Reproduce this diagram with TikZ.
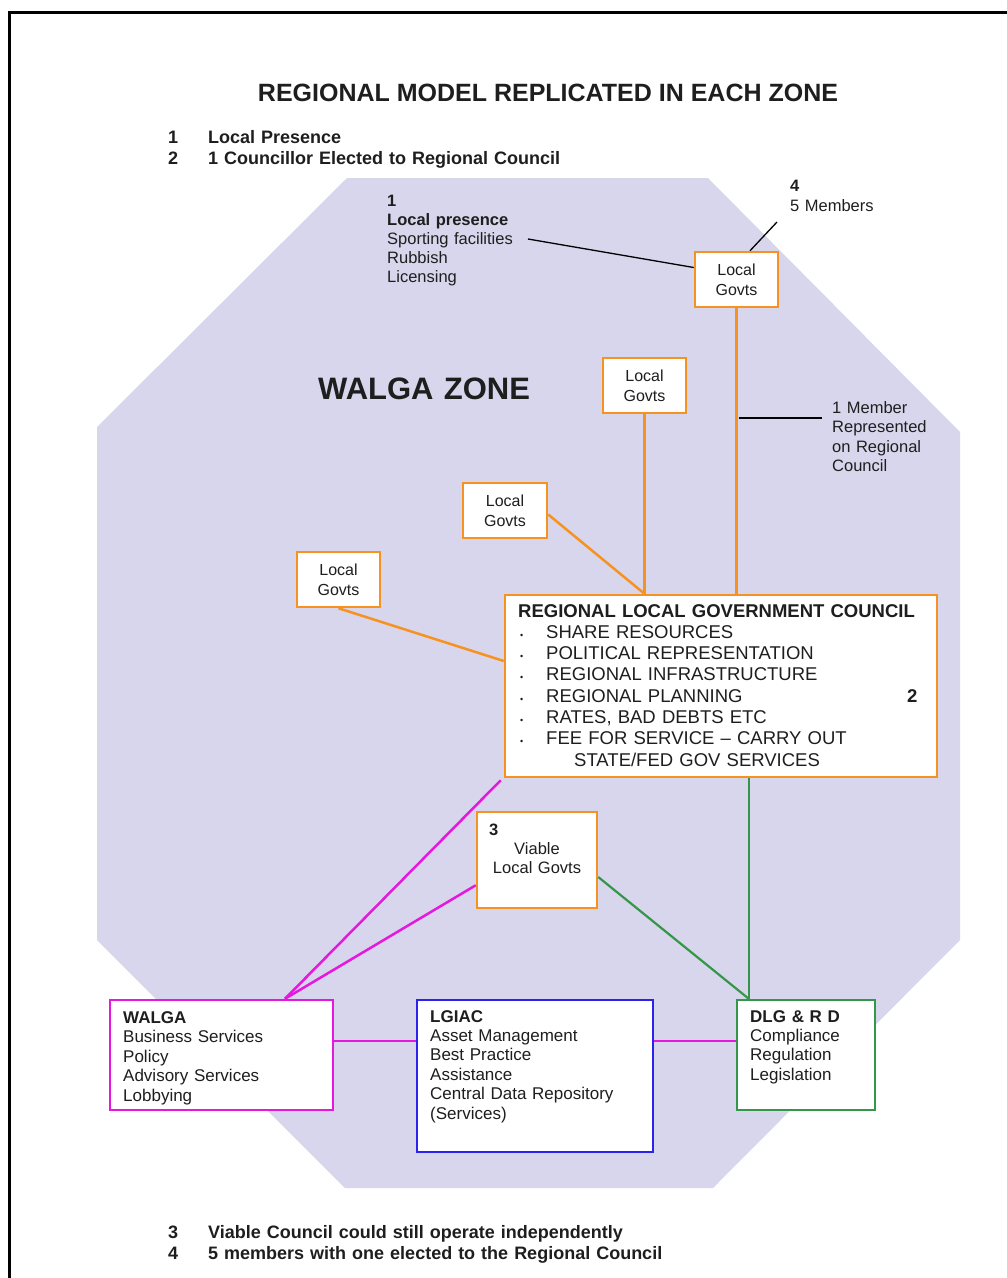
\documentclass[tikz,border=0pt]{standalone}
\usepackage{fontspec}
\setmainfont{Liberation Sans}
\usetikzlibrary{calc}
\definecolor{zoneFill}{RGB}{216,214,236}
\definecolor{orgC}{RGB}{247,146,32}
\definecolor{magC}{RGB}{228,24,222}
\definecolor{bluC}{RGB}{44,34,240}
\definecolor{grnC}{RGB}{52,150,72}
\definecolor{txtC}{RGB}{30,30,30}
\begin{document}
\begin{tikzpicture}[x=1pt,y=-1pt,
  govbox/.style={draw=orgC, line width=2.5pt, fill=white, minimum width=83pt, minimum height=55pt,
    inner sep=0pt, align=center, text=txtC, font=\fontsize{16}{20}\selectfont},
  bigbox/.style={draw=#1, line width=2.5pt, fill=white, inner sep=0pt},
  txtblock/.style={anchor=base west, inner sep=0pt, text width=#1, align=left, text=txtC},
  orgline/.style={draw=orgC, line width=2.5pt},
  magline/.style={draw=magC, line width=2.5pt},
  grnline/.style={draw=grnC, line width=2.2pt},
  blkline/.style={draw=black, line width=1.3pt},
]
\useasboundingbox (0,0) rectangle (1007,1278);
% page frame
\draw[line width=3pt] (9,1278) -- (9,12) -- (1007,12);
% zone octagon
\fill[zoneFill] (347,178) -- (708,178) -- (960,432) -- (960,940) -- (713,1188) -- (345,1188) -- (97,940) -- (97,427) -- cycle;

% title and notes
\node[anchor=base, inner sep=0pt, text=txtC, font=\bfseries\fontsize{25}{30}\selectfont] (title) at (548,101) {REGIONAL MODEL REPLICATED IN EACH ZONE};
\node[txtblock=500pt, font=\bfseries\fontsize{18}{21}\selectfont] (notesTop) at (168,143.5)
  {\makebox[40pt][l]{1}Local Presence\\\makebox[40pt][l]{2}1 Councillor Elected to Regional Council};
\node[txtblock=600pt, font=\bfseries\fontsize{18}{21}\selectfont] (notesBot) at (168,1238)
  {\makebox[40pt][l]{3}Viable Council could still operate independently\\\makebox[40pt][l]{4}5 members with one elected to the Regional Council};

\node[txtblock=300pt, font=\bfseries\fontsize{31}{36}\selectfont] (zone) at (318,399) {WALGA ZONE};

% annotation texts
\node[txtblock=200pt, font=\fontsize{16.5}{19.2}\selectfont] (presence) at (387,206)
  {\textbf{1}\\\textbf{Local presence}\\Sporting facilities\\Rubbish\\Licensing};
\node[txtblock=120pt, font=\fontsize{16.5}{20}\selectfont] (members) at (790,191)
  {\textbf{4}\\5 Members};
\node[txtblock=120pt, font=\fontsize{16.5}{19.5}\selectfont] (represented) at (832,413)
  {1 Member\\Represented\\on Regional\\Council};

% local govt boxes
\node[govbox] (lgA) at (736.5,279.5) {Local\\Govts};
\node[govbox] (lgB) at (644.5,385.5) {Local\\Govts};
\node[govbox, minimum width=84pt] (lgC) at (505,510.5) {Local\\Govts};
\node[govbox] (lgD) at (338.5,579.5) {Local\\Govts};

% regional council
\node[bigbox=orgC, minimum width=432pt, minimum height=182pt] (rlgc) at (721,686) {};
\node[txtblock=410pt, font=\fontsize{18.5}{21.3}\selectfont] (rlgcT) at (518,617)
  {\textbf{REGIONAL LOCAL GOVERNMENT COUNCIL}\\
   \hspace*{2pt}\makebox[26pt][l]{\fontsize{9}{9}\selectfont\textbullet}SHARE RESOURCES\\
   \hspace*{2pt}\makebox[26pt][l]{\fontsize{9}{9}\selectfont\textbullet}POLITICAL REPRESENTATION\\
   \hspace*{2pt}\makebox[26pt][l]{\fontsize{9}{9}\selectfont\textbullet}REGIONAL INFRASTRUCTURE\\
   \hspace*{2pt}\makebox[26pt][l]{\fontsize{9}{9}\selectfont\textbullet}REGIONAL PLANNING\\
   \hspace*{2pt}\makebox[26pt][l]{\fontsize{9}{9}\selectfont\textbullet}RATES, BAD DEBTS ETC\\
   \hspace*{2pt}\makebox[26pt][l]{\fontsize{9}{9}\selectfont\textbullet}FEE FOR SERVICE -- CARRY OUT\\
   \hspace*{56pt}STATE/FED GOV SERVICES};
\node[anchor=base west, inner sep=0pt, text=txtC, font=\bfseries\fontsize{18.5}{21}\selectfont] (two) at (907,702) {2};

% viable local govts
\node[bigbox=orgC, minimum width=120pt, minimum height=96pt] (viable) at (537,860) {};
\node[anchor=base west, inner sep=0pt, text=txtC, font=\bfseries\fontsize{16.5}{19}\selectfont] (three) at (489,835) {3};
\node[anchor=base, inner sep=0pt, text width=110pt, align=center, text=txtC, font=\fontsize{16.5}{19.2}\selectfont] (viableT) at (537,854) {Viable\\Local Govts};

% bottom boxes
\node[bigbox=magC, minimum width=223pt, minimum height=110pt] (walga) at (221.5,1055) {};
\node[txtblock=200pt, font=\fontsize{17}{19.5}\selectfont] (walgaT) at (123,1023)
  {\textbf{WALGA}\\Business Services\\Policy\\Advisory Services\\Lobbying};
\node[bigbox=bluC, minimum width=236pt, minimum height=152pt] (lgiac) at (535,1076) {};
\node[txtblock=220pt, font=\fontsize{17}{19.4}\selectfont] (lgiacT) at (430,1022)
  {\textbf{LGIAC}\\Asset Management\\Best Practice\\Assistance\\Central Data Repository\\(Services)};
\node[bigbox=grnC, minimum width=138pt, minimum height=110pt] (dlg) at (806,1055) {};
\node[txtblock=125pt, font=\fontsize{17}{19.4}\selectfont] (dlgT) at (750,1022)
  {\textbf{DLG \& R D}\\Compliance\\Regulation\\Legislation};

% helper coordinates
\coordinate (walgaTop) at ($(walga.north)+(63.5,0)$);
\coordinate (dlgTop) at ($(dlg.north west)+(13,0)$);
\coordinate (presEnd) at (528,239);
\coordinate (memEnd) at (777,222);
\coordinate (repEnd) at (822,418);

% orange connectors
\draw[orgline] (lgA.south) -- (lgA.south |- rlgc.north);
\draw[orgline] (lgB.south) -- (lgB.south |- rlgc.north);
\draw[orgline] ($(lgC.east)+(0,4)$) -- (lgB.south |- rlgc.north);
\draw[orgline] (lgD.south) -- ($(rlgc.west)+(0,-25)$);

% magenta connectors
\draw[magline] ($(rlgc.south west)+(-3,2)$) -- (walgaTop);
\draw[magline] ($(viable.south west)+(0,-24)$) -- (walgaTop);
\draw[magline] ($(walga.east)+(0,-14)$) -- ($(lgiac.west)+(0,-35)$);
\draw[magline] ($(lgiac.east)+(0,-35)$) -- ($(dlg.west)+(0,-14)$);

% green connectors
\draw[grnline] (rlgc.south -| dlgTop) -- (dlgTop);
\draw[grnline] ($(viable.east)+(0,17)$) -- (dlgTop);

% black annotation lines
\draw[blkline] (presEnd) -- ($(lgA.west)+(0,-12)$);
\draw[blkline] (memEnd) -- ($(lgA.north)+(13.5,0)$);
\draw[blkline] ($(lgA.south |- repEnd)+(2,0)$) -- (repEnd);
\end{tikzpicture}
\end{document}
